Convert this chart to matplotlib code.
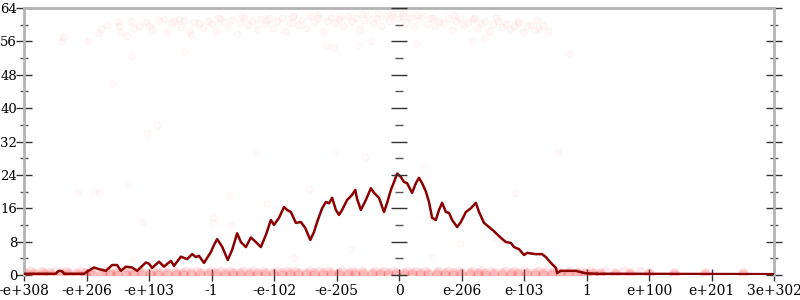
import matplotlib
matplotlib.use("Agg")
import matplotlib.pyplot as plt
from matplotlib.ticker import MultipleLocator

# tick labels on the x axis (evenly spaced positions -6..6)
x_labels = ['-e+308', '-e+206', '-e+103', '-1', '-e-102', '-e-205', '0',
            'e-206', 'e-103', '1', 'e+100', 'e+201', '3e+302']
x_pos = [-6, -5, -4, -3, -2, -1, 0, 1, 2, 3, 4, 5, 6]

# smoothed line
line_x = [-6.0, -5.49, -5.47, -5.44, -5.39, -5.36, -5.04, -4.99, -4.88, -4.8, -4.69, -4.59,
          -4.51, -4.45, -4.37, -4.27, -4.19, -4.05, -4.0, -3.95, -3.84, -3.76, -3.65, -3.6,
          -3.49, -3.39, -3.31, -3.25, -3.2, -3.12, -3.01, -2.96, -2.91, -2.83, -2.74, -2.67,
          -2.59, -2.53, -2.45, -2.37, -2.29, -2.21, -2.13, -2.05, -2.0, -1.92, -1.84, -1.79,
          -1.73, -1.65, -1.57, -1.5, -1.42, -1.36, -1.31, -1.23, -1.17, -1.12, -1.07, -1.01,
          -0.96, -0.91, -0.83, -0.75, -0.7, -0.67, -0.61, -0.53, -0.45, -0.4, -0.32, -0.24,
          -0.19, -0.13, -0.08, -0.03, 0.03, 0.08, 0.13, 0.21, 0.27, 0.32, 0.37, 0.43, 0.48,
          0.53, 0.59, 0.64, 0.69, 0.75, 0.8, 0.85, 0.93, 0.99, 1.07, 1.15, 1.23, 1.28, 1.36,
          1.44, 1.52, 1.63, 1.71, 1.79, 1.84, 1.92, 2.0, 2.05, 2.19, 2.29, 2.35, 2.43, 2.51,
          2.53, 2.59, 2.83, 2.99, 3.2, 6.0]
line_y = [0.3, 0.3, 0.7, 1.0, 0.9, 0.3, 0.3, 0.8, 1.8, 1.4, 1.0, 2.4,
          2.4, 1.0, 2.0, 1.8, 1.0, 3.0, 2.7, 1.7, 3.2, 2.0, 3.4, 2.2,
          4.4, 3.8, 5.0, 4.3, 4.6, 2.9, 5.5, 7.2, 8.6, 6.8, 3.6, 6.0,
          10.0, 7.9, 6.7, 9.0, 7.9, 6.7, 9.6, 13.2, 12.0, 13.7, 16.3, 15.6,
          15.1, 12.5, 12.7, 11.3, 8.4, 10.3, 12.7, 16.0, 17.5, 17.2, 18.5, 15.6,
          14.4, 15.6, 18.0, 19.2, 20.4, 18.2, 15.6, 18.0, 20.8, 19.7, 18.5, 15.1,
          17.3, 20.4, 22.3, 24.3, 23.5, 22.3, 22.0, 19.7, 22.0, 23.3, 22.0, 20.0, 17.5,
          13.7, 13.2, 15.6, 17.3, 15.1, 14.9, 13.2, 11.5, 12.7, 15.1, 16.0, 17.3, 15.1, 12.5,
          11.5, 10.5, 8.9, 7.9, 7.7, 6.7, 6.2, 4.8, 5.3, 5.0, 5.0, 4.3, 2.9, 1.7,
          0.5, 1.0, 1.0, 0.4, 0.3, 0.2]

# samples at 0 error
zero_x = [-5.97, -5.84, -5.7, -5.58, -5.41, -5.3, -5.16, -5.02, -4.91, -4.76, -4.63, -4.52,
          -4.37, -4.25, -4.11, -3.98, -3.86, -3.72, -3.57, -3.45, -3.33, -3.18, -3.06, -2.93,
          -2.79, -2.66, -2.54, -2.4, -2.27, -2.14, -2.02, -1.88, -1.74, -1.61, -1.49, -1.36,
          -1.22, -1.09, -0.96, -0.82, -0.7, -0.57, -0.43, -0.31, -0.18, -0.05, 0.08, 0.2,
          0.34, 0.47, 0.6, 0.74, 0.86, 0.99, 1.13, 1.26, 1.38, 1.52, 1.65, 1.79, 1.91, 2.04,
          2.18, 2.31, 2.44, 2.57, 2.7, 2.84, 2.97, 3.1, 3.22, 3.45, 3.7, 4.0, 4.4, 4.9, 5.5]
# samples at 1 error
one_x = [-5.9, -5.72, -5.5, -5.33, -5.09, -4.94, -4.7, -4.55, -4.32, -4.16, -3.93, -3.78,
         -3.6, -3.41, -3.24, -3.01, -2.86, -2.7, -2.49, -2.33, -2.18, -1.96, -1.8, -1.66,
         -1.43, -1.28, -1.13, -0.92, -0.76, -0.6, -0.39, -0.24, -0.1, 0.12, 0.27, 0.41,
         0.63, 0.79, 0.94, 1.16, 1.31, 1.47, 1.69, 1.84, 2.0, 2.22, 2.37, 2.52, 2.74, 2.9,
         3.05, 3.3, 3.6, 3.85]

# upper cluster of samples
top_x = [-5.4, -5.37, -4.97, -4.82, -4.77, -4.67, -4.5, -4.48, -4.45, -4.35, -4.29, -4.24,
         -4.16, -4.05, -4.0, -3.95, -3.84, -3.76, -3.71, -3.65, -3.6, -3.52, -3.49, -3.44,
         -3.36, -3.33, -3.28,
         -3.2, -3.13, -3.06, -3.0, -2.93, -2.87, -2.8, -2.74, -2.67, -2.6, -2.55, -2.48,
         -2.41, -2.35, -2.28, -2.22, -2.15, -2.08, -2.02, -1.95, -1.88, -1.82, -1.75, -1.69,
         -1.62, -1.55, -1.49, -1.42, -1.36, -1.29, -1.22, -1.16, -1.09, -1.02, -0.96, -0.89,
         -0.82, -0.76, -0.69, -0.62, -0.56, -0.49, -0.42, -0.36, -0.29, -0.22, -0.16, -0.09,
         -0.02, 0.04, 0.11, 0.18, 0.24, 0.31, 0.38, 0.44, 0.51, 0.58, 0.64, 0.71, 0.78, 0.84,
         0.91, 0.98, 1.04, 1.11, 1.18, 1.24, 1.31, 1.38, 1.44, 1.51, 1.58, 1.64, 1.71, 1.78,
         1.84, 1.91, 1.98, 2.04, 2.11, 2.18, 2.24, 2.31, 2.38,
         -2.9, -2.52, -2.12, -1.7, -1.3, -0.94, -0.6, -0.33, -0.12, 0.07, 0.28, 0.55, 0.88,
         1.2, 1.55, 1.9, 2.2]
top_y = [56.0, 57.0, 56.0, 58.0, 59.0, 60.0, 60.7, 59.6, 58.3, 57.3, 61.0, 59.2,
         59.7, 60.7, 59.8, 59.0, 61.2, 61.4, 58.2, 60.4, 60.9, 61.4, 59.4, 61.1,
         58.5, 57.6, 60.6,
         60.5, 59.2, 61.0, 60.1, 58.4, 61.3, 60.6, 59.5, 61.1, 57.8, 60.3, 61.5,
         59.9, 60.8, 58.9, 61.4, 60.2, 61.7, 59.3, 60.9, 61.6, 58.6, 60.4, 61.8,
         60.0, 61.2, 59.1, 62.0, 60.7, 61.5, 58.2, 60.9, 61.9, 60.3, 61.4, 59.6,
         62.1, 60.8, 61.6, 59.0, 61.1, 62.3, 60.5, 61.7, 59.8, 62.2, 61.0, 62.6,
         61.4, 62.0, 60.6, 61.8, 59.4, 61.2, 62.0, 60.2, 61.5, 59.7, 61.0, 60.5, 61.6, 58.8,
         60.9, 61.3, 59.9, 60.7, 61.4, 59.2, 60.4, 61.0, 58.5, 60.1, 60.8, 59.4, 60.2, 58.9,
         59.8, 60.4, 58.3, 59.6, 60.0, 58.7, 59.3, 59.9, 58.4,
         61.8, 62.0, 61.2, 62.2, 62.4, 61.9, 62.5, 62.8, 62.1, 62.9, 62.4, 61.7, 62.3,
         61.5, 61.9, 60.9, 61.2]

# scattered samples in between
mid_x = [-4.59, -3.87, -4.03, -4.27, -3.44, -5.14, -4.88, -4.8, -4.34, -4.11, -4.27,
         -2.29, -1.02, -0.54, -2.72, -2.97, -2.97, -2.7, -2.12, -1.44, -1.68, -0.77,
         2.54, 0.4, 1.86, 1.33, 0.98, 0.53, 1.55, 2.72, -1.17, -1.06, -0.45, 0.27,
         1.17, 1.36, -0.64]
mid_y = [46.0, 36.0, 34.0, 52.5, 53.7, 20.0, 20.0, 20.0, 21.8, 12.7, 3.6,
         29.5, 29.5, 28.3, 19.2, 12.5, 14.0, 12.0, 17.3, 20.6, 4.0, 6.2,
         29.5, 26.0, 19.7, 15.1, 7.7, 4.3, 8.9, 53.2, 55.0, 54.7, 56.0, 55.7,
         56.0, 56.8, 55.2]

fig = plt.figure(figsize=(8, 3), dpi=100)
pos = [0.03, 0.0833, 0.9375, 0.89]
ax = fig.add_axes(pos)

pt = dict(s=45, facecolor=(1, 0.2, 0.2, 0.16), edgecolor=(1, 0.3, 0.3, 0.2),
          linewidths=0.6, zorder=2)
ax.scatter(zero_x, [0] * len(zero_x), **pt)
ax.scatter(zero_x, [0.4] * len(zero_x), **pt)
ax.scatter(one_x, [1] * len(one_x), s=40, facecolor=(1, 0.3, 0.3, 0.10),
           edgecolor=(1, 0.4, 0.4, 0.12), linewidths=0.6, zorder=2)
ax.scatter(top_x, top_y, s=26, facecolor=(1, 0.3, 0.3, 0.035),
           edgecolor=(1, 0.4, 0.4, 0.06), linewidths=0.6, zorder=2)
ax.scatter(mid_x, mid_y, s=26, facecolor=(1, 0.3, 0.3, 0.03),
           edgecolor=(1, 0.4, 0.4, 0.045), linewidths=0.6, zorder=2)

ax.plot(line_x, line_y, color='#8b0000', linewidth=1.8, zorder=4)

ax.set_xlim(-6, 6)
ax.set_ylim(0, 64)
ax.set_xticks(x_pos)
ax.set_xticklabels(x_labels)
ax.yaxis.set_major_locator(MultipleLocator(8))
ax.yaxis.set_minor_locator(MultipleLocator(4))

for s in ['left', 'right', 'top']:
    ax.spines[s].set_color('#b4b4b4')
    ax.spines[s].set_linewidth(2)
ax.spines['bottom'].set_visible(False)

ax.yaxis.set_ticks_position('both')
ax.tick_params(axis='y', which='major', direction='inout', length=12, width=1,
               color='#333333', labelsize=9.5, pad=-1)
ax.tick_params(axis='y', which='minor', direction='inout', length=6, width=1,
               color='#555555')
ax.tick_params(axis='x', direction='inout', length=9, width=1, color='#333333',
               labelsize=10, pad=2)
for lab in ax.get_xticklabels() + ax.get_yticklabels():
    lab.set_family('DejaVu Serif')

# centre axis at zero with ticks on both sides
ax2 = fig.add_axes(pos, frameon=False)
ax2.set_xlim(-6, 6)
ax2.set_ylim(0, 64)
ax2.patch.set_visible(False)
ax2.spines['left'].set_visible(True)
ax2.spines['left'].set_position(('data', 0))
ax2.spines['left'].set_color('#333333')
ax2.spines['left'].set_linewidth(1)
ax2.set_xticks([])
ax2.yaxis.set_major_locator(MultipleLocator(8))
ax2.yaxis.set_minor_locator(MultipleLocator(4))
ax2.tick_params(axis='y', which='major', direction='inout', length=12, width=1,
                color='#333333', labelleft=False)
ax2.tick_params(axis='y', which='minor', direction='inout', length=6, width=1,
                color='#555555')

fig.savefig('out.png', dpi=100)
